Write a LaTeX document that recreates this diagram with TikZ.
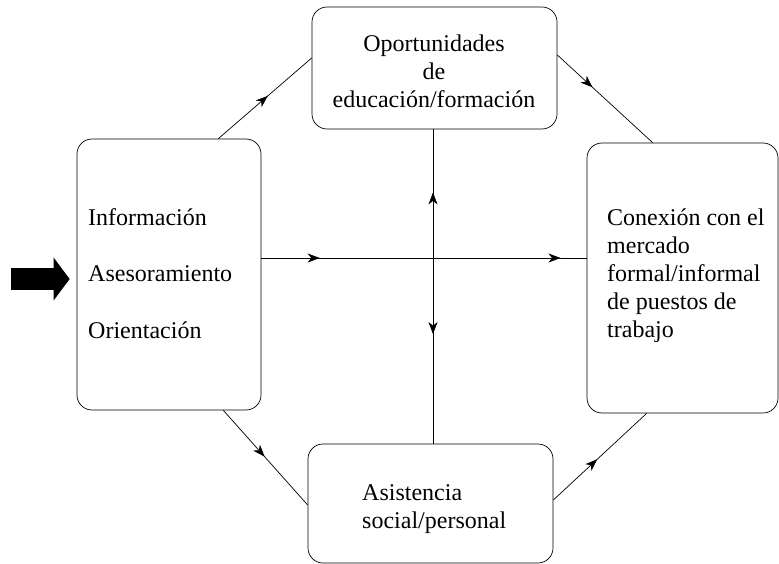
\documentclass[tikz,border=0pt]{standalone}
\usepackage{fontspec}
\setmainfont{Liberation Serif}
\usetikzlibrary{positioning}
\usetikzlibrary{calc}
\usetikzlibrary{arrows.meta,decorations.markings}

\tikzset{
caja/.style={draw,rounded corners=15pt,line width=0.7pt},
texto/.style={font=\fontsize{24}{28}\selectfont,inner sep=0pt},
flecha/.style={line width=0.7pt,postaction={decorate},decoration={markings,mark=at position #1 with {\arrow{Stealth[length=12pt,width=9pt,inset=3.5pt]}}}}
}

\begin{document}
\begin{tikzpicture}[x=1pt,y=-1pt]
\useasboundingbox (0,0) rectangle (779,564);
\node[caja,minimum width=184pt,minimum height=271pt](info) at (169,274.5){};
\node[caja,minimum width=245pt,minimum height=122pt](edu) at (434.5,68){};
\node[caja,minimum width=191pt,minimum height=270pt](empleo) at (682.5,278){};
\node[caja,minimum width=245pt,minimum height=119pt](asis) at (430.5,503.5){};
% el ancla base es la ultima linea
\node[texto,anchor=base west,align=left](infoT) at (88,338){Información\\[28.5pt]Asesoramiento\\[28.5pt]Orientación};
\node[texto,anchor=base,align=center](eduT) at (434,108){Oportunidades\\de\\educación/formación};
\node[texto,anchor=base west,align=left](empleoT) at (607,337){Conexión con el\\mercado\\formal/informal\\de puestos de\\trabajo};
\node[texto,anchor=base west,align=left](asisT) at (362,528){Asistencia\\social/personal};
\coordinate (cruce) at (433,258);
\coordinate (entrada) at (11,279);

\path
([xshift=-43pt]info.north east) edge[flecha=0.53] ([yshift=10pt]edu.west)
([yshift=13pt]edu.east) edge[flecha=0.37] ([xshift=66pt]empleo.north west)
([xshift=-38pt]info.south east) edge[flecha=0.49] ([yshift=-1.5pt]asis.west)
([yshift=3.5pt]asis.east) edge[flecha=0.47] ([xshift=60pt]empleo.south west)
(info.east |- cruce) edge[flecha=0.34] (cruce)
(cruce) edge[flecha=0.83] (empleo.west |- cruce)
(cruce) edge[flecha=0.51] (cruce |- edu.south)
(cruce) edge[flecha=0.41] (cruce |- asis.north);
\draw[line width=22pt,-{Triangle[length=16pt,width=42pt]}] (entrada) -- ([xshift=-7pt,yshift=-4.5pt]info.west);
\end{tikzpicture}
\end{document}
